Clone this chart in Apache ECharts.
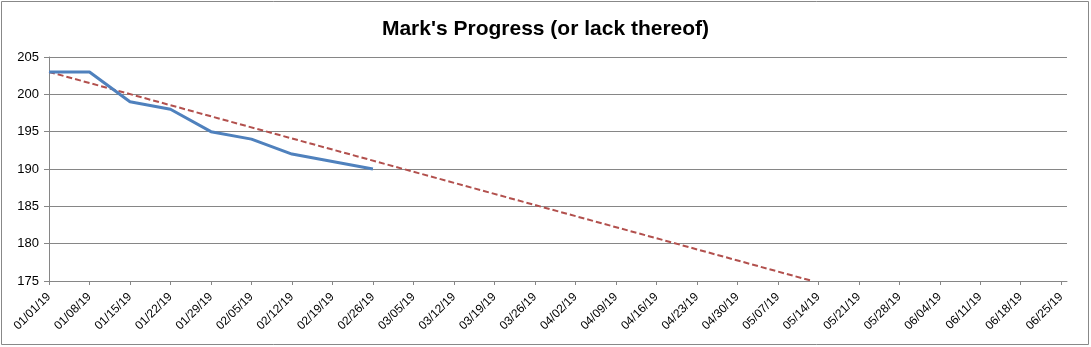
<!DOCTYPE html>
<html>
<head>
<meta charset="utf-8">
<script src="https://cdn.jsdelivr.net/npm/echarts@6/dist/echarts.min.js"></script>
<style>
html,body{margin:0;padding:0;background:#fff;}
#c{width:1091px;height:347px;}
</style>
</head>
<body>
<div id="c"></div>
<script>
const titleText = "Mark's Progress (or lack thereof)";
const tickLabels = ['01/01/19','01/08/19','01/15/19','01/22/19','01/29/19','02/05/19','02/12/19','02/19/19','02/26/19','03/05/19','03/12/19','03/19/19','03/26/19','04/02/19','04/09/19','04/16/19','04/23/19','04/30/19','05/07/19','05/14/19','05/21/19','05/28/19','06/04/19','06/11/19','06/18/19','06/25/19'];
const actualDates = ['01/01/19','01/08/19','01/15/19','01/22/19','01/29/19','02/05/19','02/12/19','02/19/19','02/26/19'];
const actualWeight = [203,203,199,198,195,194,192,191,190];
const goalDates = ['01/01/19','05/13/19'];
const goalWeight = [203,175];
const yTicks = [175,180,185,190,195,200,205];

function dayOf(s){
  const [m,d,y] = s.split('/').map(Number);
  const t = Date.UTC(2000+y, m-1, d);
  return Math.round((t - Date.UTC(2019,0,1)) / 86400000);
}
const axisMaxDay = dayOf(tickLabels[tickLabels.length-1]) + 1;

const chart = echarts.init(document.getElementById('c'), null, {renderer:'canvas'});
chart.setOption({
  animation:false,
  backgroundColor:'#ffffff',
  title:{text:titleText,left:'center',top:14,
    textStyle:{fontFamily:'Liberation Sans',fontWeight:'bold',fontSize:21,color:'#000'}},
  graphic:[{type:'rect',shape:{x:1.5,y:1.5,width:1087,height:343},
    style:{fill:null,stroke:'#888888',lineWidth:1},silent:true}],
  grid:{left:49,right:24,top:57,bottom:66,containLabel:false},
  xAxis:{type:'value',min:0,max:axisMaxDay,interval:7,
    axisLine:{show:true,lineStyle:{color:'#868686',width:1}},
    axisTick:{show:true,length:4,lineStyle:{color:'#868686'}},
    splitLine:{show:false},
    axisLabel:{rotate:45,margin:14,fontFamily:'Liberation Sans',fontSize:12,color:'#000',
      showMaxLabel:false,
      formatter:function(v){const i=Math.round(v/7);return (v%7===0 && tickLabels[i])?tickLabels[i]:'';}}
  },
  yAxis:{type:'value',min:yTicks[0],max:yTicks[yTicks.length-1],interval:5,
    axisLine:{show:true,lineStyle:{color:'#868686',width:1}},
    axisTick:{show:true,length:5,lineStyle:{color:'#868686'}},
    splitLine:{show:true,lineStyle:{color:'#868686',width:1}},
    axisLabel:{margin:10,fontFamily:'Liberation Sans',fontSize:13,color:'#000'}
  },
  series:[
    {type:'line',data:actualDates.map((d,i)=>[dayOf(d),actualWeight[i]]),
      symbol:'none',lineStyle:{color:'#4F81BD',width:3},z:3},
    {type:'line',data:goalDates.map((d,i)=>[dayOf(d),goalWeight[i]]),
      symbol:'none',lineStyle:{color:'#B2504D',width:2,type:[6,3]},z:2}
  ]
});
</script>
</body>
</html>
